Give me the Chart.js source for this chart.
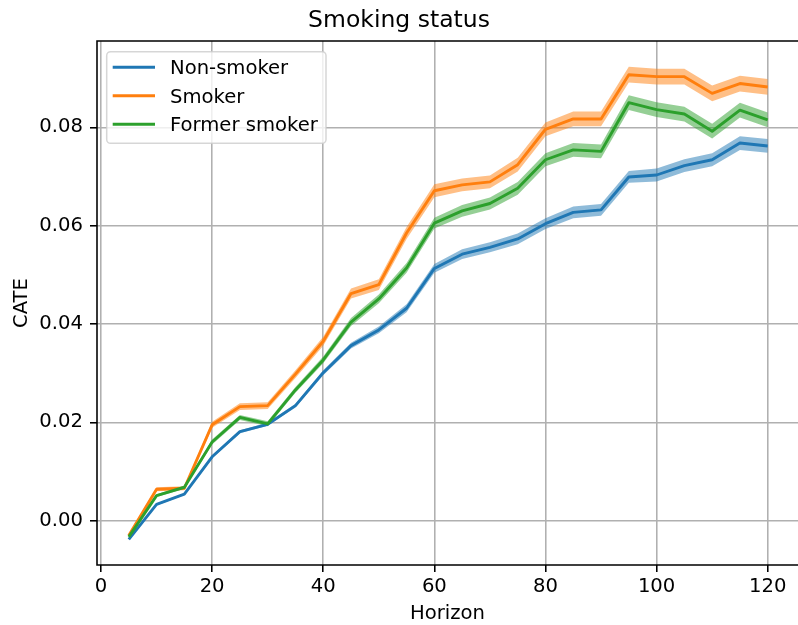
<!DOCTYPE html>
<html>
<head>
<meta charset="utf-8">
<title>Smoking status</title>
<script src="https://cdn.jsdelivr.net/npm/chart.js@4/dist/chart.umd.min.js"></script>
<style>
  html, body { margin: 0; padding: 0; background: #ffffff; overflow: hidden; }
  canvas { display: block; }
</style>
</head>
<body>
<canvas id="chart" width="798" height="625" style="width:798px;height:625px"></canvas>
<script>
// Horizon (x) values
const horizon = [5, 10, 15, 20, 25, 30, 35, 40, 45, 50, 55, 60, 65, 70, 75, 80, 85, 90, 95, 100, 105, 110, 115, 120];

// CATE estimates per group
const nonSmoker = [-0.0038, 0.0033, 0.0054, 0.0130, 0.0181, 0.0196, 0.0234, 0.0301, 0.0356, 0.0388, 0.0432, 0.0513,
                   0.0542, 0.0556, 0.0573, 0.0604, 0.0627, 0.0632, 0.0699, 0.0703, 0.0722, 0.0734, 0.0768, 0.0762];
const smoker    = [-0.0030, 0.0064, 0.0066, 0.0195, 0.0232, 0.0234, 0.0298, 0.0365, 0.0462, 0.0480, 0.0585, 0.0671,
                   0.0683, 0.0689, 0.0724, 0.0796, 0.0817, 0.0817, 0.0907, 0.0903, 0.0903, 0.0869, 0.0889, 0.0882];
const former    = [-0.0033, 0.0051, 0.0068, 0.0160, 0.0210, 0.0197, 0.0266, 0.0327, 0.0404, 0.0451, 0.0514, 0.0605,
                   0.0630, 0.0645, 0.0676, 0.0734, 0.0754, 0.0751, 0.0850, 0.0836, 0.0827, 0.0792, 0.0835, 0.0815];

// Half-width of the confidence band around each estimate
const nonSmokerBand = [0.0002, 0.0002, 0.0002, 0.0003, 0.0003, 0.0003, 0.0004, 0.0005, 0.0006, 0.0007, 0.0008, 0.0009,
                       0.0010, 0.0010, 0.0011, 0.0011, 0.0012, 0.0012, 0.0012, 0.0013, 0.0013, 0.0013, 0.0014, 0.0014];
const smokerBand    = [0.0003, 0.0004, 0.0004, 0.0006, 0.0007, 0.0007, 0.0008, 0.0009, 0.0010, 0.0011, 0.0012, 0.0013,
                       0.0013, 0.0013, 0.0014, 0.0014, 0.0015, 0.0015, 0.0016, 0.0016, 0.0016, 0.0016, 0.0016, 0.0016];
const formerBand    = [0.0002, 0.0003, 0.0003, 0.0005, 0.0005, 0.0005, 0.0006, 0.0007, 0.0008, 0.0009, 0.0010, 0.0011,
                       0.0012, 0.0012, 0.0013, 0.0013, 0.0014, 0.0014, 0.0015, 0.0015, 0.0015, 0.0015, 0.0015, 0.0015];

// Group names and axis ticks
const seriesNames = ['Non-smoker', 'Smoker', 'Former smoker'];
const xTicks = [0, 20, 40, 60, 80, 100, 120];
const yTicks = [0.00, 0.02, 0.04, 0.06, 0.08];

const COLORS = ['#1f77b4', '#ff7f0e', '#2ca02c'];
const BANDS  = ['rgba(31,119,180,0.5)', 'rgba(255,127,14,0.5)', 'rgba(44,160,44,0.5)'];
const FONT = '"DejaVu Sans", "Liberation Sans", sans-serif';
const LINE_W = 2.9;
const THIN = 1.57;

const estimates = [nonSmoker, smoker, former];
const bands = [nonSmokerBand, smokerBand, formerBand];

const toPoints = (vals) => horizon.map((h, i) => ({ x: h, y: vals[i] }));

const datasets = [];
// Confidence bands (lower bound, then upper bound filled down to it)
estimates.forEach((vals, s) => {
  datasets.push({
    label: seriesNames[s] + ' lower',
    data: toPoints(vals.map((v, i) => v - bands[s][i])),
    borderWidth: 0, pointRadius: 0, fill: false,
    borderColor: 'rgba(0,0,0,0)', order: 20 + s, isBand: true
  });
  datasets.push({
    label: seriesNames[s] + ' upper',
    data: toPoints(vals.map((v, i) => v + bands[s][i])),
    borderWidth: 0, pointRadius: 0, fill: '-1',
    borderColor: 'rgba(0,0,0,0)', backgroundColor: BANDS[s], order: 10 + s, isBand: true
  });
});
// Estimate lines; later groups drawn on top
estimates.forEach((vals, s) => {
  datasets.push({
    label: seriesNames[s],
    data: toPoints(vals),
    borderColor: COLORS[s], backgroundColor: COLORS[s],
    borderWidth: LINE_W, pointRadius: 0, tension: 0, fill: false,
    borderJoinStyle: 'round', borderCapStyle: 'butt',
    order: 3 - s
  });
});

// Axes frame: left, top and bottom sides (the right side sits past the canvas edge)
const frame = {
  id: 'frame',
  afterDatasetsDraw(chart) {
    const { ctx, chartArea: a } = chart;
    ctx.save();
    ctx.strokeStyle = '#000000';
    ctx.lineWidth = THIN;
    ctx.lineCap = 'square';
    ctx.beginPath();
    ctx.moveTo(a.right + 2, a.top);
    ctx.lineTo(a.left, a.top);
    ctx.lineTo(a.left, a.bottom);
    ctx.lineTo(a.right + 2, a.bottom);
    ctx.stroke();
    ctx.restore();
  }
};

// Framed legend in the upper-left corner of the plot
const framedLegend = {
  id: 'framedLegend',
  afterDraw(chart) {
    const { ctx, chartArea: a } = chart;
    const x0 = a.left + 9.7, y0 = a.top + 10.7, w = 219.3, h = 91.6, r = 3.9;
    ctx.save();
    ctx.beginPath();
    ctx.moveTo(x0 + r, y0);
    ctx.lineTo(x0 + w - r, y0);
    ctx.arcTo(x0 + w, y0, x0 + w, y0 + r, r);
    ctx.lineTo(x0 + w, y0 + h - r);
    ctx.arcTo(x0 + w, y0 + h, x0 + w - r, y0 + h, r);
    ctx.lineTo(x0 + r, y0 + h);
    ctx.arcTo(x0, y0 + h, x0, y0 + h - r, r);
    ctx.lineTo(x0, y0 + r);
    ctx.arcTo(x0, y0, x0 + r, y0, r);
    ctx.closePath();
    ctx.fillStyle = 'rgba(255,255,255,0.8)';
    ctx.fill();
    ctx.strokeStyle = 'rgba(204,204,204,0.8)';
    ctx.lineWidth = 1.5;
    ctx.stroke();

    const lines = chart.data.datasets.filter(d => !d.isBand);
    ctx.font = '19.6px ' + FONT;
    ctx.textBaseline = 'alphabetic';
    ctx.textAlign = 'left';
    lines.forEach((d, i) => {
      const y = y0 + 15.6 + i * 28.5;
      ctx.beginPath();
      ctx.moveTo(x0 + 6, y);
      ctx.lineTo(x0 + 48.3, y);
      ctx.strokeStyle = d.borderColor;
      ctx.lineWidth = LINE_W;
      ctx.lineCap = 'butt';
      ctx.stroke();
      ctx.fillStyle = '#000000';
      ctx.fillText(d.label, x0 + 63.3, y + 7.1);
    });
    ctx.restore();
  }
};

new Chart(document.getElementById('chart'), {
  type: 'line',
  data: { datasets },
  plugins: [frame, framedLegend],
  options: {
    responsive: false,
    animation: false,
    events: [],
    layout: { padding: 0 },
    plugins: {
      legend: { display: false },
      tooltip: { enabled: false },
      filler: { propagate: false },
      title: {
        display: true,
        text: 'Smoking status',
        color: '#000000',
        font: { family: FONT, size: 23.5, weight: 'normal', lineHeight: 1.2 },
        padding: { top: 7.1, bottom: 5.7 }
      }
    },
    scales: {
      x: {
        type: 'linear',
        min: -0.72,
        max: 125.45,
        afterBuildTicks(scale) { scale.ticks = xTicks.map(v => ({ value: v })); },
        afterFit(scale) { scale.height = 60; },
        ticks: {
          color: '#000000',
          font: { family: FONT, size: 19.6 },
          padding: 2.7,
          maxRotation: 0,
          autoSkip: false,
          callback: (v) => String(v)
        },
        grid: { color: '#b0b0b0', lineWidth: THIN, tickColor: '#000000', tickWidth: THIN, tickLength: 7 },
        border: { display: false },
        title: {
          display: true,
          text: 'Horizon',
          color: '#000000',
          font: { family: FONT, size: 19.6, lineHeight: 1.0 },
          padding: { top: 0, bottom: 1.3 }
        }
      },
      y: {
        type: 'linear',
        min: -0.00901,
        max: 0.09755,
        afterBuildTicks(scale) { scale.ticks = yTicks.map(v => ({ value: v })); },
        afterFit(scale) { scale.width = 97; },
        ticks: {
          color: '#000000',
          font: { family: FONT, size: 19.6 },
          padding: 7,
          autoSkip: false,
          callback: (v) => Number(v).toFixed(2)
        },
        grid: { color: '#b0b0b0', lineWidth: THIN, tickColor: '#000000', tickWidth: THIN, tickLength: 7 },
        border: { display: false },
        title: {
          display: true,
          text: 'CATE',
          color: '#000000',
          font: { family: FONT, size: 19.6, lineHeight: 1.2 },
          padding: { top: 9.7, bottom: 0 }
        }
      }
    }
  }
});
</script>
</body>
</html>
